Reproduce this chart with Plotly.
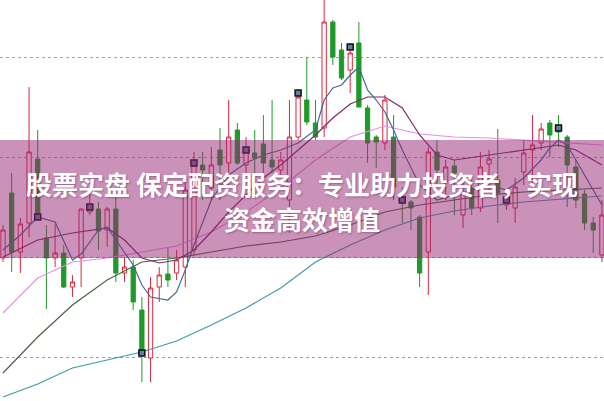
import plotly.graph_objects as go

# ---- candle data (price units) ----
opens  = [142,207,148,177,241,162,142,147,113,142,188,191,170,191,127,133,90,42,113,126,
          127,133,150,235,212,250,237,270,235,247,256,240,230,200,263,300,277,272,378,350,
          330,357,292,263,257,263,203,198,183,148,248,218,234,185,212,192,236,220,195,192,
          228,250,257,277,275,263,233,206,177,145]
highs  = [175,227,182,313,270,175,176,155,125,191,208,198,193,207,143,140,103,123,133,153,
          150,220,248,248,253,272,300,277,263,270,285,300,248,300,307,343,300,400,380,357,
          357,378,295,265,305,285,213,200,185,253,260,240,240,220,220,248,250,271,210,222,
          260,285,277,280,285,265,240,210,183,200]
lows   = [138,128,127,163,180,91,133,112,103,113,185,150,153,118,118,90,18,18,98,113,
          120,113,145,200,200,200,215,235,225,203,227,227,223,167,260,275,260,263,335,320,
          307,293,237,232,250,200,177,170,113,105,213,200,185,172,185,188,210,177,190,177,
          215,210,250,243,253,193,192,170,147,138]
closes = [170,148,176,248,183,142,147,113,118,191,193,169,191,127,133,98,47,112,125,120,
          140,210,235,230,235,235,263,237,250,242,237,233,240,263,303,278,263,378,343,322,
          347,293,257,258,300,213,197,192,127,248,230,233,227,207,192,233,241,207,203,213,
          247,255,271,265,268,235,200,177,170,185]
idx = list(range(len(opens)))

# ---- moving average lines ----
ma5_x = [0,2,4,6,8,9,11,12,13,15,16,17,19,20,21,22,24,26,28,30,32,34,36,37,38,39,40,41,
         42,43,44,45,46,48,50,52,54,56,58,60,62,63,64,65,66,68,69]
ma5_y = [150,165,183,178,140,146,170,173,160,135,115,103,100,108,130,155,200,225,237,245,
         250,257,270,300,312,315,325,333,310,300,288,270,250,215,200,205,210,215,210,222,
         240,252,260,255,240,210,195]
ma10_x = [0,4,8,12,14,16,18,20,22,24,26,28,30,32,34,36,38,40,42,44,46,48,50,52,56,60,64,66,69]
ma10_y = [143,160,167,172,160,142,137,140,150,168,188,205,222,235,250,265,282,296,303,303,
          292,265,245,240,245,250,255,250,235]
ma20_x = [0,4,8,12,16,20,24,28,32,36,40,44,48,52,56,60,64,69]
ma20_y = [87,122,138,142,148,154,168,188,212,240,263,274,266,263,262,260,258,255]
ma30_x = [0,4,8,12,16,20,24,28,32,36,40,44,48,52,56,60,64,69]
ma30_y = [27,63,95,120,138,142,148,154,158,164,175,188,195,200,205,208,210,212]
ma60_x = [0,4,8,12,16,20,24,28,32,36,40,44,48,52,56,60,64,69]
ma60_y = [3,16,32,40,48,59,75,92,112,138,155,170,182,189,194,198,201,204]

mark_x = [4,10,16,22,28,34,40,46,58,64]
mark_y = [183,193,47,237,250,307,353,200,200,272]

title_1 = "股票实盘 保定配资服务：专业助力投资者，实现"
title_2 = "资金高效增值"

fig = go.Figure()
fig.add_trace(go.Candlestick(
    x=idx, open=opens, high=highs, low=lows, close=closes,
    increasing=dict(line=dict(color="#d8283c", width=1), fillcolor="#ffffff"),
    decreasing=dict(line=dict(color="#1f9a2a", width=1), fillcolor="#1f9a2a"),
    whiskerwidth=0, showlegend=False, hoverinfo="skip"))

for xs, ys, col in [(ma60_x, ma60_y, "#3f9ca6"), (ma30_x, ma30_y, "#47663f"),
                    (ma20_x, ma20_y, "#e690e6"), (ma10_x, ma10_y, "#7a2c68"),
                    (ma5_x, ma5_y, "#3f6d8e")]:
    fig.add_trace(go.Scatter(x=xs, y=ys, mode="lines",
                             line=dict(color=col, width=1.2),
                             showlegend=False, hoverinfo="skip"))

fig.add_trace(go.Scatter(x=mark_x, y=mark_y, mode="markers",
                         marker=dict(symbol="square", size=6, color="#5e7fa0",
                                     line=dict(color="#111111", width=1.5)),
                         showlegend=False, hoverinfo="skip"))

# banner
fig.add_shape(type="rect", xref="paper", x0=0, x1=1, yref="y", y0=142, y1=260,
              fillcolor="rgba(150,35,115,0.5)", line=dict(width=0), layer="above")

font = dict(family="Noto Sans CJK SC", size=26, color="#ffffff",
            shadow="1px 1px 2px rgba(60,0,40,0.35)")
fig.add_annotation(x=0.5, xref="paper", y=217, yref="y", text="<b>" + title_1 + "</b>",
                   showarrow=False, font=font, xanchor="center", yanchor="middle")
fig.add_annotation(x=0.5, xref="paper", y=182, yref="y", text="<b>" + title_2 + "</b>",
                   showarrow=False, font=font, xanchor="center", yanchor="middle")

fig.update_layout(
    width=604, height=401, margin=dict(l=0, r=0, t=0, b=0),
    paper_bgcolor="#ffffff", plot_bgcolor="#ffffff",
    xaxis=dict(range=[-0.346, 69.24], visible=False, rangeslider=dict(visible=False),
               fixedrange=True),
    yaxis=dict(range=[-1, 400], showticklabels=False, showgrid=True, tick0=43, dtick=100,
               griddash="dot", gridcolor="#a0a0a0", gridwidth=1, zeroline=False,
               showline=False, ticks="", fixedrange=True),
)
fig.write_html("out.html", config=dict(displayModeBar=False),
               post_script="document.body.style.margin='0';document.body.style.overflow='hidden';")
